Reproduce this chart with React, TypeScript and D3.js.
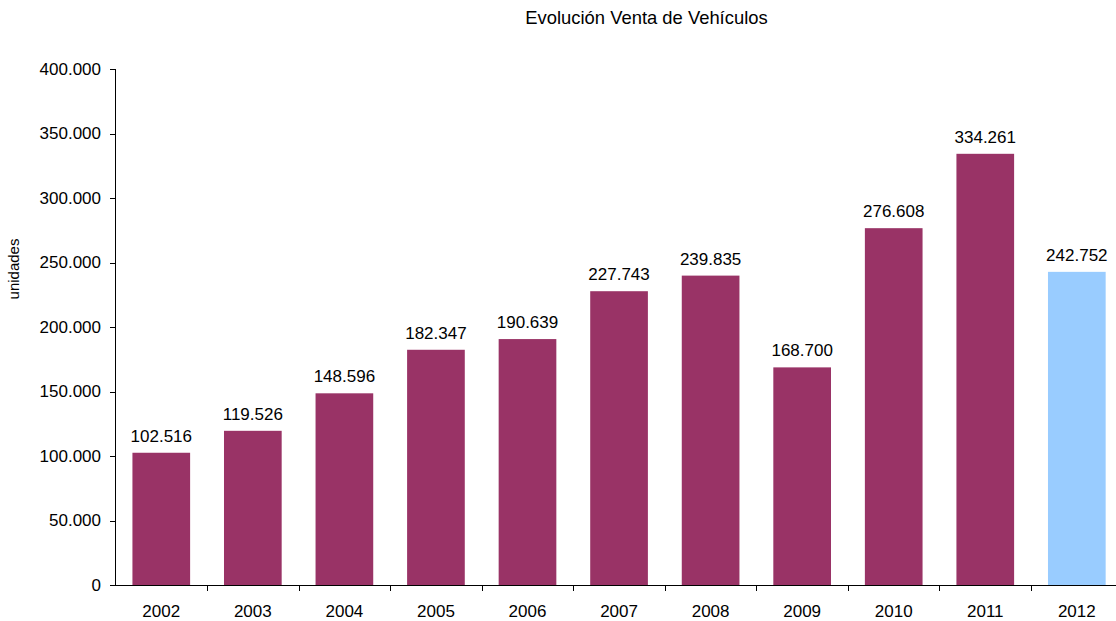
import React from "react";
import * as d3 from "d3";

const years = ["2002", "2003", "2004", "2005", "2006", "2007", "2008", "2009", "2010", "2011", "2012"];
const sales = [102516, 119526, 148596, 182347, 190639, 227743, 239835, 168700, 276608, 334261, 242752];
const yTicks = [0, 50000, 100000, 150000, 200000, 250000, 300000, 350000, 400000];
const title = "Evolución Venta de Vehículos";
const yLabel = "unidades";

const W = 1116;
const H = 621;
const FONT = "'Liberation Sans', Arial, sans-serif";

const fmt = (v: number) => {
  if (v === 0) return "0";
  const s = Math.round(v).toString();
  return s.replace(/\B(?=(\d{3})+(?!\d))/g, ".");
};

export default function App() {
  const x = d3.scaleBand<string>().domain(years).range([115.5, 1122.6]).paddingInner(0.37).paddingOuter(0.185);
  const y = d3.scaleLinear().domain([0, 400000]).range([585, 69]);
  const step = x.step();
  const bw = x.bandwidth();
  const boundaries = years.map((yr) => (x(yr) as number) + bw / 2 + step / 2);

  return (
    <svg width={W} height={H} style={{ position: "absolute", left: 0, top: 0, background: "#fff" }} fontFamily={FONT}>
      <text x={646.5} y={24} textAnchor="middle" fontSize={18.4} fill="#000">{title}</text>
      <text transform={`translate(19,269) rotate(-90)`} textAnchor="middle" fontSize={15} fill="#000">{yLabel}</text>

      {years.map((yr, i) => (
        <rect key={yr} x={x(yr)} y={y(sales[i])} width={bw} height={y(0) - y(sales[i])}
          fill={yr === "2012" ? "#99CCFF" : "#993366"} />
      ))}
      {years.map((yr, i) => (
        <text key={"l" + yr} x={(x(yr) as number) + bw / 2} y={y(sales[i]) - 11} textAnchor="middle" fontSize={17} fill="#000">
          {fmt(sales[i])}
        </text>
      ))}

      <line x1={115.5} x2={115.5} y1={y(400000)} y2={y(0)} stroke="#000" strokeWidth={1} />
      {yTicks.map((t) => (
        <g key={"yt" + t}>
          <line x1={110} x2={115.5} y1={Math.round(y(t)) + 0.5} y2={Math.round(y(t)) + 0.5} stroke="#000" />
          <text x={101} y={y(t)} dy="0.35em" textAnchor="end" fontSize={17} fill="#000">{fmt(t)}</text>
        </g>
      ))}

      <line x1={115} x2={1122.6} y1={585.5} y2={585.5} stroke="#000" strokeWidth={1} />
      {boundaries.map((b, i) => (
        <line key={"xt" + i} x1={Math.round(b) + 0.5} x2={Math.round(b) + 0.5} y1={585.5} y2={591} stroke="#000" />
      ))}
      {years.map((yr) => (
        <text key={"xl" + yr} x={(x(yr) as number) + bw / 2} y={617} textAnchor="middle" fontSize={17} fill="#000">{yr}</text>
      ))}
    </svg>
  );
}
